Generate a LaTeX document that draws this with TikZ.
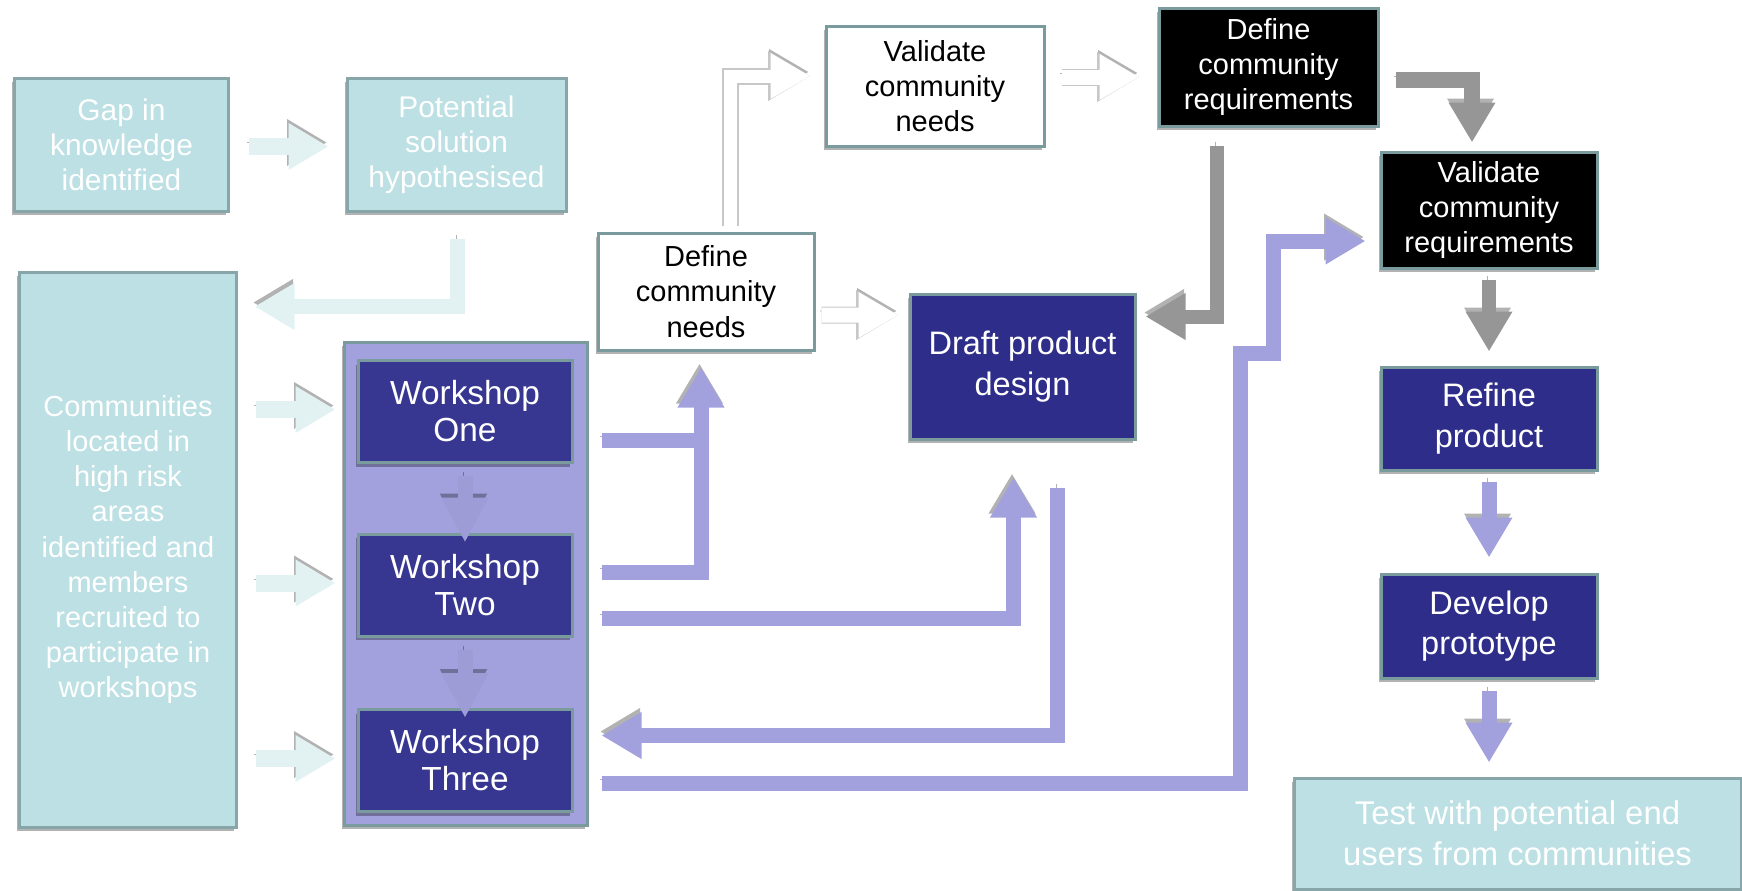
\documentclass[tikz,border=0pt]{standalone}
\usepackage{fontspec}
\setmainfont{Liberation Sans}
\usetikzlibrary{arrows.meta, positioning, calc, shadows}
\definecolor{TealBox}{HTML}{BCE0E3}
\definecolor{TealEdge}{HTML}{86A6A9}
\definecolor{TealArrow}{HTML}{E2F2F3}
\definecolor{BoxEdge}{HTML}{7A9B9D}
\definecolor{Navy}{HTML}{2E2E8A}
\definecolor{Lilac}{HTML}{A2A1DE}
\definecolor{GreyArrow}{HTML}{969696}

\tikzset{
    box/.style={draw=BoxEdge, line width=0.6mm, inner sep=0pt, align=center,
        drop shadow={shadow xshift=-0.5mm, shadow yshift=-0.8mm, fill=black, opacity=0.3}},
    tealbox/.style={box, draw=TealEdge, fill=TealBox, text=white,
        font=\fontsize{17}{20}\selectfont},
    whitebox/.style={box, fill=white, text=black, font=\fontsize{16.5}{20}\selectfont},
    blackbox/.style={box, fill=black, text=white, font=\fontsize{16.5}{20}\selectfont},
    navybox/.style={box, fill=Navy, text=white, font=\fontsize{18.5}{23}\selectfont},
    wsbox/.style={navybox, fill=Navy!92!Lilac, minimum width=42.8mm, minimum height=20.4mm,
        font=\fontsize{19}{21}\selectfont},
    shd/.style={preaction={draw=black, draw opacity=0.3,
        transform canvas={xshift=-0.3mm, yshift=0.8mm}}},
    blockarrow/.style={shd, line join=miter, line width=3mm,
        -{Triangle[length=8mm, width=8.8mm]}},
    tarrow/.style={blockarrow, draw=TealArrow, line width=3.4mm},
    parrow/.style={blockarrow, draw=Lilac},
    pline/.style={shd, draw=Lilac, line width=3mm},
    garrow/.style={blockarrow, draw=GreyArrow, line width=2.8mm},
    warrow/.style={line join=miter, draw=white, line width=3mm,
        -{Triangle[length=8mm, width=8.6mm]},
        preaction={draw=black, draw opacity=0.3, transform canvas={xshift=-0.3mm, yshift=0.8mm}},
        preaction={draw=black!22, line width=3.4mm, -{Triangle[length=8.5mm, width=9.4mm]}}},
    wsarrow/.style={blockarrow, draw=Lilac!97!black, line width=3mm,
        -{Triangle[length=9mm, width=8.8mm]}},
}

\begin{document}
\begin{tikzpicture}[x=0.2mm, y=-0.2mm]
    \useasboundingbox (0,0) rectangle (1742,890);

    % Left column
    \node[tealbox, minimum width=42.6mm, minimum height=26.6mm] (gap) at (121.5,144.5) {Gap in\\knowledge\\identified};
    \node[tealbox, minimum width=43.8mm, minimum height=26.6mm] (pot) at (456.5,144.5) {Potential\\solution\\hypothesised};
    \node[tealbox, minimum width=43.2mm, minimum height=111mm, font=\fontsize{16.5}{20}\selectfont] (comm) at (128,549.5)
        {Communities\\located in\\high risk\\areas\\identified and\\members\\recruited to\\participate in\\workshops};

    % Workshops
    \node[box, fill=Lilac, minimum width=48.6mm, minimum height=96.6mm] (cont) at (465.5,583.5) {};
    \node[wsbox] (w1) at (465,411.5) {Workshop\\One};
    \node[wsbox] (w2) at (465,585) {Workshop\\Two};
    \node[wsbox] (w3) at (465,760.5) {Workshop\\Three};

    % Middle
    \node[whitebox, minimum width=43.2mm, minimum height=23.4mm] (dneed) at (706,291.5) {Define\\community\\needs};
    \node[whitebox, minimum width=43.6mm, minimum height=24mm] (vneed) at (935,86) {Validate\\community\\needs};
    \node[blackbox, minimum width=43.8mm, minimum height=23.6mm] (dreq) at (1268.5,67) {Define\\community\\requirements};
    \node[navybox, minimum width=45mm, minimum height=29mm] (draft) at (1022.5,366.5) {Draft product\\design};

    % Right column
    \node[blackbox, minimum width=43.2mm, minimum height=23.2mm] (vreq) at (1489,210) {Validate\\community\\requirements};
    \node[navybox, minimum width=43.2mm, minimum height=20.6mm] (refine) at (1489,418.5) {Refine\\product};
    \node[navybox, minimum width=43.2mm, minimum height=20.8mm] (devel) at (1489,626) {Develop\\prototype};
    \node[tealbox, minimum width=89.4mm, minimum height=22.2mm, font=\fontsize{18.7}{23.3}\selectfont] (test) at (1517.5,833.5)
        {Test with potential end\\users from communities};

    % Teal arrows
    \draw[tarrow] ($(gap.east)+(19,2)$) -- ($(pot.west)+(-17,2)$);
    \draw[tarrow, line width=3mm] ($(pot.south)+(1,26)$) |- ($(comm.north east)+(17,36)$);
    \foreach \w in {w1,w2,w3}
        \draw[tarrow] ($(comm.east |- \w.west)+(18,-2)$) -- ($(\w.west)+(-21,-2)$);

    % Workshop to workshop
    \draw[wsarrow] ($(w1.south)+(0,12)$) -- ($(w2.north)+(0,10)$);
    \draw[wsarrow] ($(w2.south)+(0,12)$) -- ($(w3.north)+(0,10)$);

    % Purple arrows
    \draw[pline] ($(w1.east)+(28,29)$) -- ($(w1.east -| dneed.south)+(2,29)$);
    \draw[parrow] ($(w2.east)+(28,-13)$) -| ($(dneed.south)+(-5,16)$);
    \draw[parrow] ($(w2.east)+(28,33)$) -| ($(draft.south)+(-9,37)$);
    \draw[parrow] ($(draft.south)+(35,47)$) |- ($(w3.east)+(28,-25)$);
    \draw[parrow] ($(w3.east)+(28,23)$) -| ($(vreq.west)+(-139,143)$) -| ($(vreq.west)+(-106,31)$) -- ($(vreq.west)+(-14,31)$);

    % White arrows
    \draw[warrow, line width=2.6mm] ($(dneed.north)+(24,-6)$) |- ($(vneed.west)+(-14,-10)$);
    \draw[warrow] ($(vneed.east)+(16,-9)$) -- ($(dreq.west)+(-18,10)$);
    \draw[warrow] ($(dneed.east)+(6,23.5)$) -- ($(draft.west)+(-10,-51.5)$);

    % Grey arrows
    \draw[garrow] ($(dreq.south)+(-52,18)$) |- ($(draft.east)+(9,-50)$);
    \draw[garrow, line width=3.1mm] ($(dreq.east)+(16,13)$) -| ($(vreq.north)+(-17,-8)$);
    \draw[garrow] ($(vreq.south)+(0,10)$) -- ($(refine.north)+(0,-14)$);

    % Right column, purple
    \draw[parrow] ($(refine.south)+(0,10)$) -- ($(devel.north)+(0,-15)$);
    \draw[parrow] ($(devel.south)+(0,11)$) -- ($(devel.south |- test.north)+(0,-14)$);

\end{tikzpicture}
\end{document}
